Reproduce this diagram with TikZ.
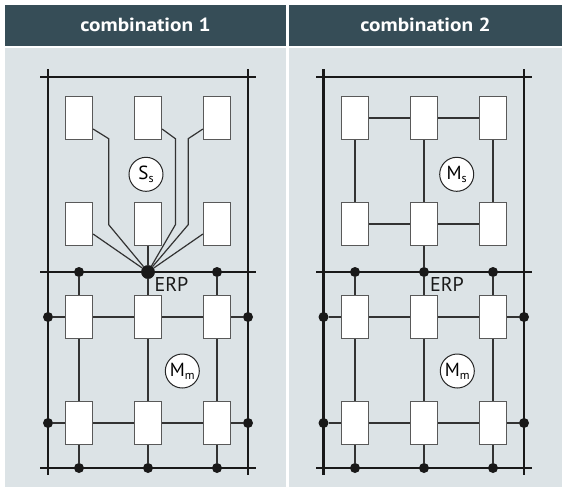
\documentclass[tikz,border=0pt]{standalone}
\usepackage{fontspec}
\setmainfont{PT Sans}
\definecolor{headbg}{HTML}{364D57}
\definecolor{panelbg}{HTML}{DCE3E6}
\tikzset{
  rail/.style={line width=2.8pt,black!90},
  wire/.style={line width=1.2pt,black!80},
  unit/.style={draw=black!65,line width=1.2pt,fill=white,minimum width=27pt,minimum height=43pt,inner sep=0pt},
  tap/.style={circle,fill=black!90,minimum size=10pt,inner sep=0pt},
  hubdot/.style={circle,fill=black!90,minimum size=13.5pt,inner sep=0pt},
  ringlbl/.style={circle,draw=black!85,line width=1pt,fill=white,minimum size=34pt,inner sep=0pt,font=\fontsize{19}{19}\selectfont},
  heading/.style={text=white,font=\fontsize{19}{19}\selectfont\bfseries},
  erplbl/.style={font=\fontsize{20}{20}\selectfont,text=black!90}
}
\newcommand{\sub}[2]{#1\raisebox{-0.3ex}{\fontsize{12}{12}\selectfont #2}}
\begin{document}
\begin{tikzpicture}[x=1pt,y=-1pt,line cap=butt,line join=miter]
  \useasboundingbox (0,0) rectangle (562,488);
  % panels
  \fill[headbg] (5,5) rectangle (286,45.5);
  \fill[headbg] (289,5) rectangle (562,45.5);
  \fill[panelbg] (5,48) rectangle (286,487);
  \fill[panelbg] (289,48) rectangle (562,487);
  \node[heading] (h1) at (145.5,25) {\scalebox{1.12}[1]{combination 1}};
  \node[heading] (h2) at (425.5,25) {\scalebox{1.12}[1]{combination 2}};

  % frames
  \draw[rail] (48,69) -- (48,475);
  \draw[rail] (248,69) -- (248,475);
  \foreach \y in {77,272,468} \draw[rail] (40,\y) -- (256,\y);
  \draw[rail] (323.5,69) -- (323.5,475);
  \draw[rail] (524,69) -- (524,475);
  \foreach \y in {77,272,468} \draw[rail] (316,\y) -- (531.5,\y);

  % boxes, left (a) and right (b)
  \foreach \c/\x in {1/79,2/148,3/217} {
    \foreach \r/\y in {1/118,2/224,3/317,4/423}
      \node[unit] (a\r\c) at (\x,\y) {};
  }
  \foreach \c/\x in {1/355,2/424,3/493} {
    \foreach \r/\y in {1/118,2/224,3/317,4/423}
      \node[unit] (b\r\c) at (\x,\y) {};
  }

  % lower meshes
  \foreach \p/\xl/\xr/\xa/\xb/\xc in {a/48/248/79/148/217,b/323.5/524/355/424/493} {
    \foreach \r/\y in {3/317,4/423} {
      \node[tap] (\p l\r) at (\xl,\y) {};
      \node[tap] (\p r\r) at (\xr,\y) {};
      \draw[wire] (\p l\r) -- (\p\r1) -- (\p\r2) -- (\p\r3) -- (\p r\r);
    }
    \foreach \c/\x in {1/\xa,2/\xb,3/\xc} {
      \node[tap] (\p bot\c) at (\x,468) {};
      \draw[wire] (\p3\c) -- (\p4\c) -- (\p bot\c);
    }
  }
  \node[tap] (atop1) at (79,272) {};
  \node[tap] (atop3) at (217,272) {};
  \node[tap] (btop1) at (355,272) {};
  \node[tap] (btop2) at (424,272) {};
  \node[tap] (btop3) at (493,272) {};
  \draw[wire] (atop1) -- (a31);
  \draw[wire] (atop3) -- (a33);
  \draw[wire] (btop1) -- (b31);
  \draw[wire] (btop2) -- (b32);
  \draw[wire] (btop3) -- (b33);

  % star, combination 1
  \node[hubdot] (hub) at (148,272) {};
  \draw[wire] (hub) -- (a32);
  \draw[wire] (a22) -- (hub);
  \draw[wire] ([yshift=-10pt]a21.east) -- (hub);
  \draw[wire] ([yshift=-10pt]a23.west) -- (hub);
  \draw[wire] ([yshift=-11pt]a11.east) -- ++(15.6,9.7) -- ++(0,86) -- (hub);
  \draw[wire] ([yshift=-11pt]a12.east) -- ++(13.3,9.7) -- ++(0,86) -- (hub);
  \draw[wire] ([yshift=-11pt]a13.west) -- ++(-14.7,9.7) -- ++(0,86) -- (hub);
  \node[hubdot] at (hub) {};

  % ring, combination 2
  \draw[wire] (b11) -- (b12) -- (b13);
  \draw[wire] (b21) -- (b22) -- (b23);
  \foreach \c in {1,2,3} \draw[wire] (b1\c) -- (b2\c);
  \draw[wire] (b22) -- (btop2);

  % labels
  \node[erplbl] (erp1) at (171.5,284.5) {ERP};
  \node[erplbl] (erp2) at (447,284.5) {ERP};
  \node[ringlbl] (ss) at (146,174.3) {\sub{S}{s}};
  \node[ringlbl] (ms) at (456.7,174.3) {\sub{M}{s}};
  \node[ringlbl] (mm1) at (182.3,371) {\sub{M}{m}};
  \node[ringlbl] (mm2) at (457.3,371) {\sub{M}{m}};
\end{tikzpicture}
\end{document}
